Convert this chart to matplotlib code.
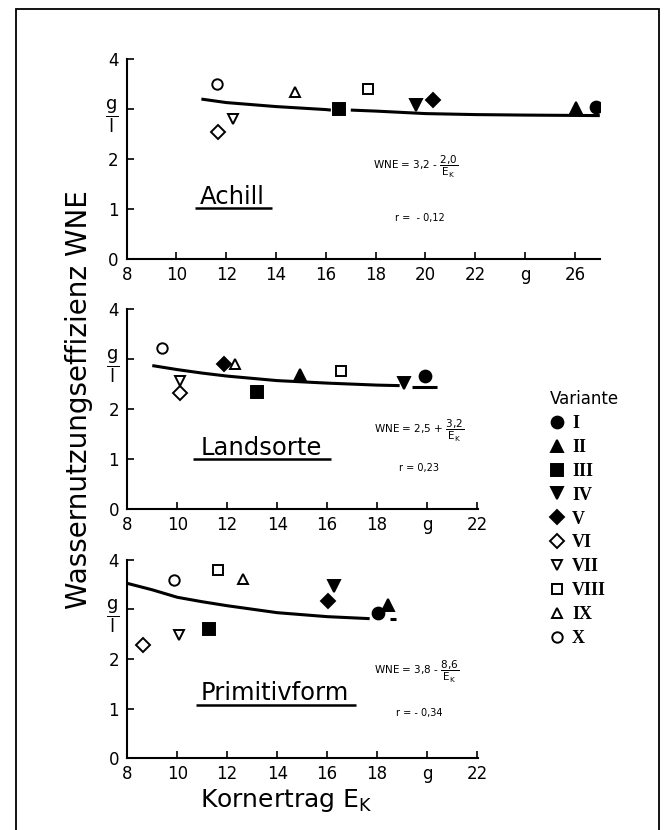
import matplotlib
matplotlib.use("Agg")
import matplotlib.pyplot as plt
from matplotlib.lines import Line2D
from matplotlib.patches import Rectangle

plt.rcParams['font.family'] = ['DejaVu Sans']
plt.rcParams['mathtext.default'] = 'regular'

# Varianten I..X
varianten = ['I', 'II', 'III', 'IV', 'V', 'VI', 'VII', 'VIII', 'IX', 'X']
marker_typ = ['o', '^', 's', 'v', 'D', 'D', 'v', 's', '^', 'o']
gefuellt = [True, True, True, True, True, False, False, False, False, False]

# Achill
achill_x = [26.83, 26.04, 16.51, 19.62, 20.30, 11.66, 12.26, 17.70, 14.76, 11.62]
achill_y = [3.05, 3.02, 3.01, 3.09, 3.18, 2.54, 2.81, 3.41, 3.35, 3.51]
achill_kurve_x = [[11, 12, 13, 14, 15, 16, 16.2], [17, 18, 20, 22, 24, 27]]
achill_kurve_y = [[3.20, 3.13, 3.09, 3.05, 3.02, 2.99, 2.98], [2.98, 2.96, 2.91, 2.89, 2.88, 2.87]]

# Landsorte
land_x = [19.90, 14.90, 13.18, 19.06, 11.87, 10.12, 10.12, 16.55, 12.32, 9.38]
land_y = [2.66, 2.68, 2.34, 2.53, 2.90, 2.32, 2.56, 2.76, 2.91, 3.23]
land_kurve_x = [[9, 10, 11, 12, 14, 16, 18, 18.9], [19.4, 20.4]]
land_kurve_y = [[2.87, 2.79, 2.72, 2.66, 2.57, 2.52, 2.48, 2.47], [2.45, 2.45]]

# Primitivform
prim_x = [18.04, 18.44, 11.26, 16.27, 16.05, 8.62, 10.05, 11.64, 12.64, 9.88]
prim_y = [2.92, 3.08, 2.60, 3.47, 3.16, 2.28, 2.48, 3.78, 3.61, 3.59]
prim_kurve_x = [[8, 9, 10, 11, 12, 14, 16, 17.7], [18.5, 18.75]]
prim_kurve_y = [[3.52, 3.39, 3.24, 3.15, 3.07, 2.93, 2.85, 2.81], [2.81, 2.81]]

xticks_oben = [8, 10, 12, 14, 16, 18, 20, 22, 24, 26]
xlabels_oben = ['8', '10', '12', '14', '16', '18', '20', '22', 'g', '26']
xticks_unten = [8, 10, 12, 14, 16, 18, 20, 22]
xlabels_unten = ['8', '10', '12', '14', '16', '18', 'g', '22']
yticks = [0, 1, 2, 3, 4]
ylabels = ['0', '1', '2', r'$\dfrac{g}{l}$', '4']

panels = [
    dict(name='Achill', x=achill_x, y=achill_y, kx=achill_kurve_x, ky=achill_kurve_y,
         xlim=(8, 27.0), xt=xticks_oben, xl=xlabels_oben,
         pos=[0.1908, 0.6876, 0.7125, 0.2413],
         gl=r'WNE = 3,2 - $\dfrac{2{,}0}{E_K}$', r='r =  - 0,12',
         name_xy=(10.94, 1.24), line_x=(10.74, 13.84), line_y=1.02,
         gl_xy=(17.89, 1.84), r_xy=(18.78, 0.82)),
    dict(name='Landsorte', x=land_x, y=land_y, kx=land_kurve_x, ky=land_kurve_y,
         xlim=(8, 22.05), xt=xticks_unten, xl=xlabels_unten,
         pos=[0.1917, 0.3864, 0.5287, 0.2413],
         gl=r'WNE = 2,5 + $\dfrac{3{,}2}{E_K}$', r='r = 0,23',
         name_xy=(10.92, 1.23), line_x=(10.64, 16.14), line_y=1.0,
         gl_xy=(17.86, 1.56), r_xy=(18.87, 0.82)),
    dict(name='Primitivform', x=prim_x, y=prim_y, kx=prim_kurve_x, ky=prim_kurve_y,
         xlim=(8, 22.05), xt=xticks_unten, xl=xlabels_unten,
         pos=[0.1917, 0.0864, 0.5287, 0.2395],
         gl=r'WNE = 3,8 - $\dfrac{8{,}6}{E_K}$', r='r = - 0,34',
         name_xy=(10.92, 1.31), line_x=(10.76, 17.15), line_y=1.07,
         gl_xy=(17.86, 1.74), r_xy=(18.75, 0.91)),
]


def marker_groesse(i):
    if marker_typ[i] == 'D':
        return 7.0
    return 8.5 if gefuellt[i] else 7.5


fig = plt.figure(figsize=(6.64, 8.3), dpi=100)

for p in panels:
    ax = fig.add_axes(p['pos'])
    for kx, ky in zip(p['kx'], p['ky']):
        ax.plot(kx, ky, color='black', lw=2.2, solid_capstyle='butt')
    for i in range(len(varianten)):
        ax.plot(p['x'][i], p['y'][i], marker=marker_typ[i], linestyle='none',
                markersize=marker_groesse(i),
                markerfacecolor='black' if gefuellt[i] else 'white',
                markeredgecolor='black', markeredgewidth=1.4)
    ax.set_xlim(*p['xlim'])
    ax.set_ylim(0, 4)
    ax.set_xticks(p['xt'])
    ax.set_xticklabels(p['xl'])
    ax.set_yticks(yticks)
    ax.set_yticklabels(ylabels)
    ax.spines['top'].set_visible(False)
    ax.spines['right'].set_visible(False)
    ax.spines['left'].set_linewidth(1.5)
    ax.spines['bottom'].set_linewidth(1.5)
    ax.tick_params(axis='x', direction='in', length=5, width=1.2, labelsize=12, pad=5)
    ax.tick_params(axis='y', direction='in', length=5, width=1.2, labelsize=12, pad=6)
    ax.get_yticklabels()[3].set_fontsize(13)
    ax.patch.set_alpha(0)

    ax.text(p['name_xy'][0], p['name_xy'][1], p['name'], fontsize=17.5,
            ha='left', va='center')
    ax.plot(p['line_x'], [p['line_y'], p['line_y']], color='black', lw=1.8,
            solid_capstyle='butt')
    ax.text(p['gl_xy'][0], p['gl_xy'][1], p['gl'], fontsize=7.5,
            ha='left', va='center')
    ax.text(p['r_xy'][0], p['r_xy'][1], p['r'], fontsize=7,
            ha='left', va='center')

fig.text(79 / 664, 1 - 400 / 830, 'Wassernutzungseffizienz WNE', rotation=90,
         fontsize=20, ha='center', va='center')
fig.text(200 / 664, 1 - 800 / 830, 'Kornertrag E$_K$', fontsize=18,
         ha='left', va='center')

# Legende
handles = [Line2D([], [], marker=marker_typ[i], linestyle='none',
                  markersize=marker_groesse(i),
                  markerfacecolor='black' if gefuellt[i] else 'white',
                  markeredgecolor='black', markeredgewidth=1.4)
           for i in range(len(varianten))]
leg = fig.legend(handles, varianten, loc='upper left',
                 bbox_to_anchor=(534 / 664, 1 - 374 / 830), frameon=False,
                 title='Variante', alignment='left', handlelength=0.8,
                 handletextpad=0.4, labelspacing=0.38,
                 prop={'family': 'Liberation Serif', 'weight': 'bold', 'size': 13})
leg.get_title().set_fontsize(12)

fig.patches.append(Rectangle((16 / 664, -0.05), 643 / 664, 1.05 - 9 / 830,
                             transform=fig.transFigure, fill=False,
                             edgecolor='black', lw=1.3))

fig.savefig('out.png', dpi=100)
